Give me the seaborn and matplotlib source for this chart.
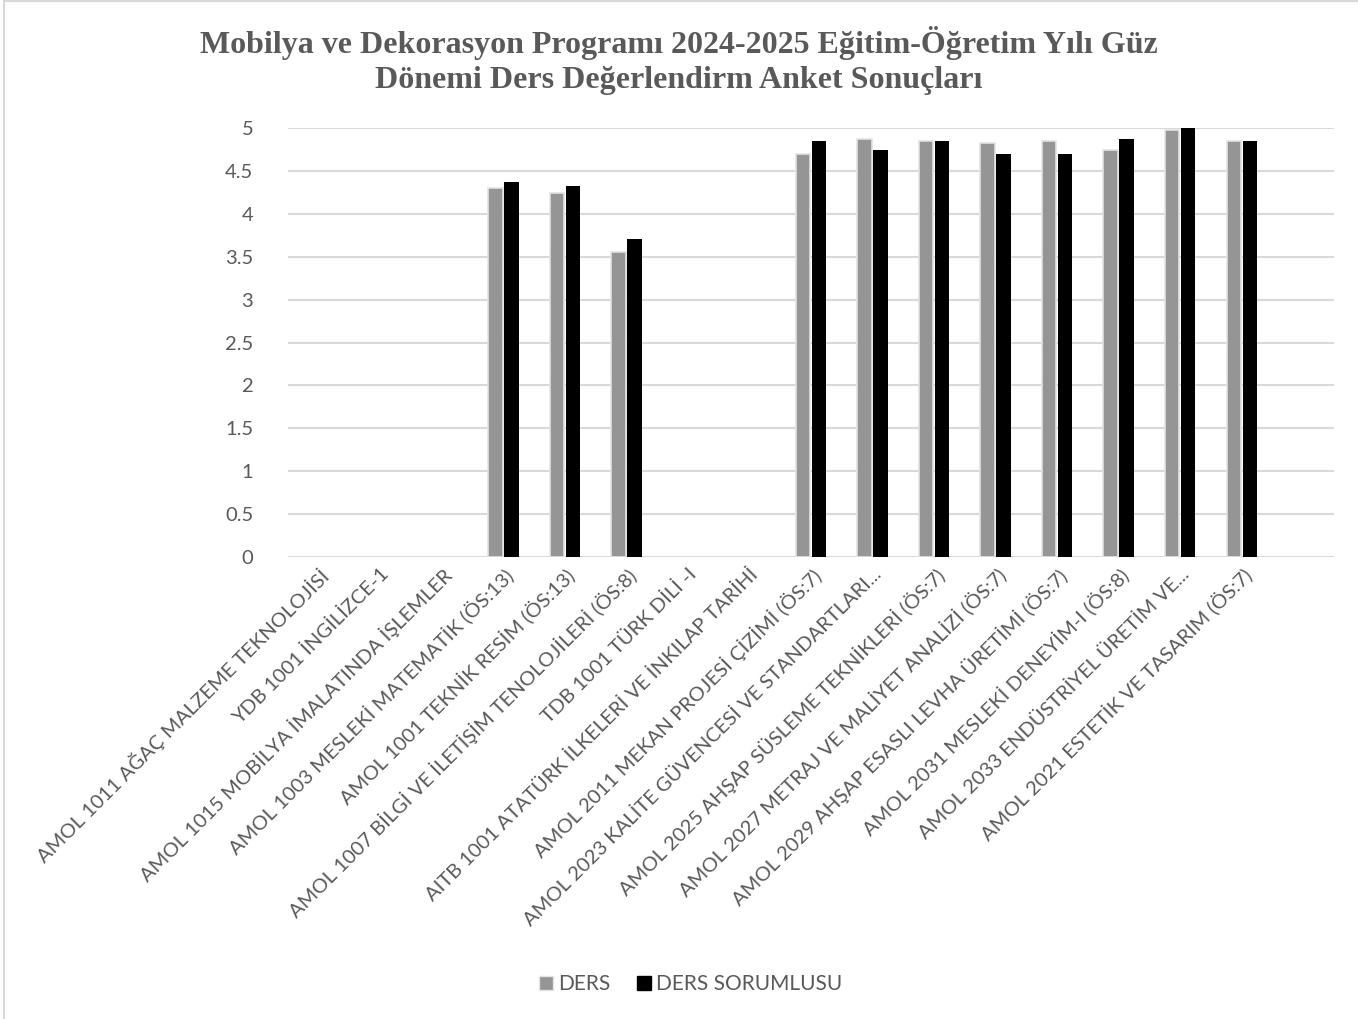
import matplotlib

matplotlib.use("Agg")
import matplotlib.pyplot as plt
import matplotlib.lines as mlines
import pandas as pd
import seaborn as sns

# Ders adları (son kategori boş, Excel grafiğindeki gibi)
dersler = [
    "AMOL 1011 AĞAÇ MALZEME TEKNOLOJİSİ",
    "YDB 1001 İNGİLİZCE-1",
    "AMOL 1015 MOBİLYA İMALATINDA İŞLEMLER",
    "AMOL 1003 MESLEKİ MATEMATİK (ÖS:13)",
    "AMOL 1001 TEKNİK RESİM (ÖS:13)",
    "AMOL 1007 BİLGİ VE İLETİŞİM TENOLOJİLERİ (ÖS:8)",
    "TDB 1001 TÜRK DİLİ -I",
    "AITB 1001 ATATÜRK İLKELERİ VE İNKILAP TARİHİ",
    "AMOL 2011 MEKAN PROJESİ ÇİZİMİ (ÖS:7)",
    "AMOL 2023 KALİTE GÜVENCESİ VE STANDARTLARI...",
    "AMOL 2025 AHŞAP SÜSLEME TEKNİKLERİ (ÖS:7)",
    "AMOL 2027 METRAJ VE MALİYET ANALİZİ (ÖS:7)",
    "AMOL 2029 AHŞAP ESASLI LEVHA ÜRETİMİ (ÖS:7)",
    "AMOL 2031 MESLEKİ DENEYİM-I (ÖS:8)",
    "AMOL 2033 ENDÜSTRİYEL ÜRETİM VE...",
    "AMOL 2021 ESTETİK VE TASARIM (ÖS:7)",
    "",
]

nan = float("nan")
ders_puan = [nan, nan, nan, 4.30, 4.24, 3.56, nan, nan,
             4.70, 4.87, 4.85, 4.82, 4.85, 4.74, 4.98, 4.85, nan]
sorumlu_puan = [nan, nan, nan, 4.37, 4.32, 3.71, nan, nan,
                4.85, 4.74, 4.85, 4.70, 4.70, 4.87, 5.00, 4.85, nan]

seriler = ["DERS", "DERS SORUMLUSU"]
renkler = {"DERS": "#959595", "DERS SORUMLUSU": "#000000"}

GRI_YAZI = "#595959"
IZGARA = "#d9d9d9"


def veri_hazirla() -> pd.DataFrame:
    df = pd.DataFrame({"ders": dersler, "DERS": ders_puan, "DERS SORUMLUSU": sorumlu_puan})
    df = df.melt(id_vars="ders", var_name="seri", value_name="puan")
    return df


def main():
    df = veri_hazirla()

    sns.set_theme(style="white")
    plt.rcParams["font.family"] = ["Lato", "DejaVu Sans"]

    fig = plt.figure(figsize=(13.58, 10.19), dpi=100)
    ax = fig.add_axes([288 / 1358, 1 - 557 / 1019, (1334 - 288) / 1358, (557 - 128) / 1019])

    sns.barplot(
        data=df.dropna(),
        x="ders",
        y="puan",
        hue="seri",
        hue_order=seriler,
        order=dersler,
        palette=renkler,
        width=0.52,
        gap=0.1,
        ax=ax,
        legend=False,
    )

    for kap, seri in zip(ax.containers, seriler):
        for bar in kap:
            if seri == "DERS":
                bar.set_edgecolor("#e3e3e3")
                bar.set_linewidth(1.2)
            else:
                bar.set_edgecolor("none")

    ax.set_ylim(0, 5)
    ax.set_xlim(-0.5, len(dersler) - 0.5)
    yt = [i * 0.5 for i in range(11)]
    ax.set_yticks(yt)
    ax.set_yticklabels([f"{v:g}" for v in yt], fontsize=14.5, color=GRI_YAZI)
    ax.yaxis.grid(True, color=IZGARA, linewidth=1.5)
    ax.set_axisbelow(True)
    for s in ax.spines.values():
        s.set_visible(False)
    ax.tick_params(axis="y", length=0, pad=25)
    ax.tick_params(axis="x", length=0, pad=6)

    ax.set_xticks(range(len(dersler)))
    ax.set_xticklabels(dersler, rotation=45, ha="right", rotation_mode="anchor",
                       fontsize=14.5, color=GRI_YAZI)
    ax.set_xlabel("")
    ax.set_ylabel("")

    fig.suptitle(
        "Mobilya ve Dekorasyon Programı 2024-2025 Eğitim-Öğretim Yılı Güz\n"
        "Dönemi Ders Değerlendirm Anket Sonuçları",
        y=1 - 26 / 1019, va="top", fontsize=23, fontweight="bold",
        family=["Liberation Serif", "DejaVu Serif"], color=GRI_YAZI, linespacing=1.28,
    )

    tutamaclar = [
        mlines.Line2D([], [], marker="s", linestyle="none", markersize=10,
                      markerfacecolor=renkler[s],
                      markeredgecolor="#e3e3e3" if s == "DERS" else renkler[s],
                      label=s)
        for s in seriler
    ]
    fig.legend(handles=tutamaclar, loc="center", bbox_to_anchor=(0.508, 1 - 984 / 1019),
               ncol=2, frameon=False, fontsize=15, handletextpad=0.2, handlelength=0.8,
               columnspacing=1.2, labelcolor=GRI_YAZI)

    # ince çerçeve (sol ve üst)
    fig.add_artist(mlines.Line2D([4 / 1358, 4 / 1358], [0, 1 - 1 / 1019],
                                 transform=fig.transFigure, color=IZGARA, linewidth=1.5))
    fig.add_artist(mlines.Line2D([4 / 1358, 1], [1 - 1 / 1019, 1 - 1 / 1019],
                                 transform=fig.transFigure, color=IZGARA, linewidth=1.5))

    fig.savefig("out.png", dpi=100)
    plt.close(fig)


if __name__ == "__main__":
    main()
